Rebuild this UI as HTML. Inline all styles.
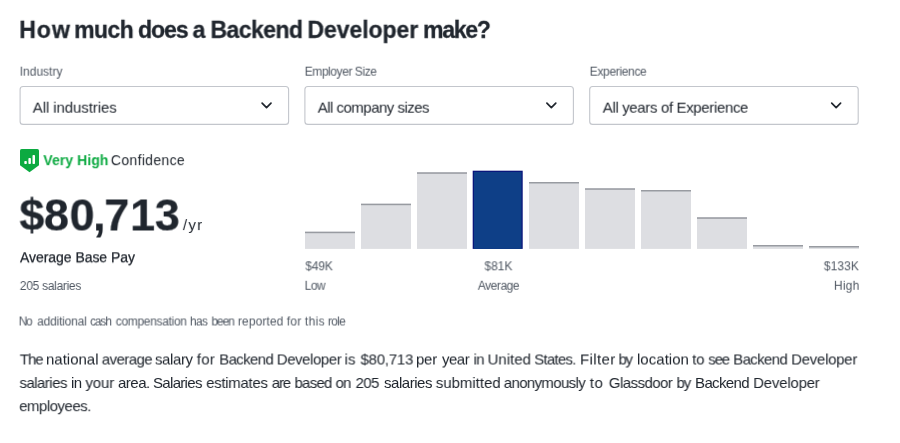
<!DOCTYPE html>
<html>
<head>
<meta charset="utf-8">
<title>How much does a Backend Developer make?</title>
<style>
*{box-sizing:border-box;margin:0;padding:0}
html,body{width:900px;height:443px;background:#fff;overflow:hidden}
body{font-family:"Liberation Sans",sans-serif;color:#20262e;position:relative}
.t{position:absolute;left:0;top:0;white-space:nowrap;line-height:1;will-change:opacity;transform-origin:0 0}
.sel{position:absolute;top:87px;width:269px;height:38px;border:1px solid #c4c7cc;border-radius:3px;background:#fff}
.chev{position:absolute;left:240.6px;top:14.6px;overflow:visible}
.bar{position:absolute;background:#dedfe2;width:50px}
.bar i{position:absolute;left:0;top:0;width:100%;height:1.5px;background:#9a9da3;display:block}
.bar.hi{background:#0d3d86;border:1px solid #0a2e68}
</style>
</head>
<body>
<div class="t" id="h1_0" style="-webkit-text-stroke:0.3px #20262e;transform:translate(19.3px,18.898px) rotate(0.001deg);font-size:23px;letter-spacing:1.0px;color:#20262e;font-weight:bold">How</div>
<div class="t" id="h1_1" style="-webkit-text-stroke:0.3px #20262e;transform:translate(74.2px,18.898px) rotate(0.001deg);font-size:23px;letter-spacing:-0.583px;color:#20262e;font-weight:bold">much</div>
<div class="t" id="h1_2" style="-webkit-text-stroke:0.3px #20262e;transform:translate(138.1px,18.898px) rotate(0.001deg);font-size:23px;letter-spacing:-1.083px;color:#20262e;font-weight:bold">does</div>
<div class="t" id="h1_3" style="-webkit-text-stroke:0.3px #20262e;transform:translate(192.625px,18.9px) rotate(0.001deg);font-size:23px;letter-spacing:0.0px;color:#20262e;font-weight:bold">a</div>
<div class="t" id="h1_4" style="-webkit-text-stroke:0.3px #20262e;transform:translate(210.5px,18.897px) rotate(0.001deg);font-size:23px;letter-spacing:-0.542px;color:#20262e;font-weight:bold">Backend</div>
<div class="t" id="h1_5" style="-webkit-text-stroke:0.3px #20262e;transform:translate(307.5px,18.896px) rotate(0.001deg);font-size:23px;letter-spacing:-0.063px;color:#20262e;font-weight:bold">Developer</div>
<div class="t" id="h1_6" style="-webkit-text-stroke:0.3px #20262e;transform:translate(423.1px,18.898px) rotate(0.001deg);font-size:23px;letter-spacing:-1.25px;color:#20262e;font-weight:bold">make?</div>
<div class="t" id="lb1" style="transform:translate(19.7px,65.699px) rotate(0.001deg);font-size:12px;letter-spacing:-0.0px;color:#505863;font-weight:normal">Industry</div>
<div class="t" id="lb2" style="transform:translate(304.7px,65.698px) rotate(0.001deg);font-size:12px;letter-spacing:-0.437px;color:#505863;font-weight:normal">Employer Size</div>
<div class="t" id="lb3" style="transform:translate(589.7px,65.698px) rotate(0.001deg);font-size:12px;letter-spacing:-0.333px;color:#505863;font-weight:normal">Experience</div>
<svg style="position:absolute;left:0;top:0" width="900" height="140" viewBox="0 0 900 140">
<rect x="20.1" y="86.5" width="268.5" height="37.9" rx="3" fill="#fff" stroke="#c3c6cc" stroke-width="1.1"/>
<path d="M262.10 103.20 L266.55 107.65 L271.00 103.20" fill="none" stroke="#20262e" stroke-width="1.7" stroke-linecap="round" stroke-linejoin="round"/>
<rect x="304.9" y="86.5" width="268.5" height="37.9" rx="3" fill="#fff" stroke="#c3c6cc" stroke-width="1.1"/>
<path d="M546.90 103.20 L551.35 107.65 L555.80 103.20" fill="none" stroke="#20262e" stroke-width="1.7" stroke-linecap="round" stroke-linejoin="round"/>
<rect x="589.7" y="86.5" width="268.5" height="37.9" rx="3" fill="#fff" stroke="#c3c6cc" stroke-width="1.1"/>
<path d="M831.70 103.20 L836.15 107.65 L840.60 103.20" fill="none" stroke="#20262e" stroke-width="1.7" stroke-linecap="round" stroke-linejoin="round"/>
</svg>
<div class="t" id="s1" style="transform:translate(32.7px,99.697px) rotate(0.001deg);font-size:15px;letter-spacing:-0.077px;color:#20262e;font-weight:normal">All industries</div>
<div class="t" id="s2" style="transform:translate(317.7px,99.696px) rotate(0.001deg);font-size:15px;letter-spacing:-0.516px;color:#20262e;font-weight:normal">All company sizes</div>
<div class="t" id="s3" style="transform:translate(602.7px,99.695px) rotate(0.001deg);font-size:15px;letter-spacing:-0.352px;color:#20262e;font-weight:normal">All years of Experience</div>
<svg style="position:absolute;left:19.85px;top:148.9px;overflow:visible" width="19" height="24" viewBox="0 0 19 24">
<path d="M1.6 0 H17.4 Q19 0 19 1.6 V16.3 L9.5 23.2 L0 16.3 V1.6 Q0 0 1.6 0 Z" fill="#0caa41"/>
<rect x="4.3" y="12" width="2.5" height="3.1" rx="0.8" fill="#fff"/>
<rect x="8.4" y="9" width="2.5" height="6.1" rx="0.8" fill="#fff"/>
<rect x="12.5" y="6.1" width="2.5" height="9" rx="0.8" fill="#fff"/>
</svg>
<div class="t" id="vh" style="transform:translate(43.35px,153.198px) rotate(0.001deg);font-size:14px;letter-spacing:0.062px;color:#0caa41;font-weight:bold">Very High</div>
<div class="t" id="cf" style="transform:translate(110.85px,153.197px) rotate(0.001deg);font-size:14px;letter-spacing:0.333px;color:#20262e;font-weight:normal">Confidence</div>
<div class="t" id="pr_0" style="-webkit-text-stroke:0.2px #20262e;transform:translate(19.375px,192.499px) rotate(0.001deg);font-size:45px;letter-spacing:0.0px;color:#20262e;font-weight:bold">$</div>
<div class="t" id="pr_1" style="-webkit-text-stroke:0.2px #20262e;transform:translate(43.95px,192.499px) rotate(0.001deg);font-size:45px;letter-spacing:0.0px;color:#20262e;font-weight:bold">8</div>
<div class="t" id="pr_2" style="-webkit-text-stroke:0.2px #20262e;transform:translate(69.575px,192.499px) rotate(0.001deg);font-size:45px;letter-spacing:0.0px;color:#20262e;font-weight:bold">0</div>
<div class="t" id="pr_3" style="-webkit-text-stroke:0.2px #20262e;transform:translate(93.05px,192.5px) rotate(0.001deg);font-size:45px;letter-spacing:0.0px;color:#20262e;font-weight:bold">,</div>
<div class="t" id="pr_4" style="-webkit-text-stroke:0.2px #20262e;transform:translate(104.325px,192.499px) rotate(0.001deg);font-size:45px;letter-spacing:0.0px;color:#20262e;font-weight:bold">7</div>
<div class="t" id="pr_5" style="-webkit-text-stroke:0.2px #20262e;transform:translate(130.125px,192.499px) rotate(0.001deg);font-size:45px;letter-spacing:0.0px;color:#20262e;font-weight:bold">1</div>
<div class="t" id="pr_6" style="-webkit-text-stroke:0.2px #20262e;transform:translate(154.8px,192.499px) rotate(0.001deg);font-size:45px;letter-spacing:0.0px;color:#20262e;font-weight:bold">3</div>
<div class="t" id="yr" style="transform:translate(182.9px,217.099px) rotate(0.001deg);font-size:15px;letter-spacing:1.25px;color:#20262e;font-weight:normal">/yr</div>
<div class="t" id="abp" style="-webkit-text-stroke:0.25px #20262e;transform:translate(20.0px,250.296px) rotate(0.001deg);font-size:14px;letter-spacing:-0.05px;color:#20262e;font-weight:normal">Average Base Pay</div>
<div class="t" id="sal" style="transform:translate(19.8px,279.998px) rotate(0.001deg);font-size:12px;letter-spacing:-0.295px;color:#505863;font-weight:normal">205 salaries</div>
<div class="t" id="na_0" style="transform:translate(18.7px,315.5px) rotate(0.001deg);font-size:12px;letter-spacing:-1.5px;color:#505863;font-weight:normal">No</div>
<div class="t" id="na_1" style="transform:translate(37.2px,315.498px) rotate(0.001deg);font-size:12px;letter-spacing:-0.194px;color:#505863;font-weight:normal">additional</div>
<div class="t" id="na_2" style="transform:translate(90.1px,315.499px) rotate(0.001deg);font-size:12px;letter-spacing:-1.167px;color:#505863;font-weight:normal">cash</div>
<div class="t" id="na_3" style="transform:translate(115.7px,315.497px) rotate(0.001deg);font-size:12px;letter-spacing:-0.318px;color:#505863;font-weight:normal">compensation</div>
<div class="t" id="na_4" style="transform:translate(189.95px,315.499px) rotate(0.001deg);font-size:12px;letter-spacing:-0.625px;color:#505863;font-weight:normal">has</div>
<div class="t" id="na_5" style="transform:translate(211.45px,315.499px) rotate(0.001deg);font-size:12px;letter-spacing:-1.083px;color:#505863;font-weight:normal">been</div>
<div class="t" id="na_6" style="transform:translate(237.85px,315.498px) rotate(0.001deg);font-size:12px;letter-spacing:0.107px;color:#505863;font-weight:normal">reported</div>
<div class="t" id="na_7" style="transform:translate(286.75px,315.5px) rotate(0.001deg);font-size:12px;letter-spacing:0.25px;color:#505863;font-weight:normal">for</div>
<div class="t" id="na_8" style="transform:translate(304.85px,315.499px) rotate(0.001deg);font-size:12px;letter-spacing:0.333px;color:#505863;font-weight:normal">this</div>
<div class="t" id="na_9" style="transform:translate(327.85px,315.499px) rotate(0.001deg);font-size:12px;letter-spacing:-0.667px;color:#505863;font-weight:normal">role</div>
<svg style="position:absolute;left:0;top:0" width="900" height="260" viewBox="0 0 900 260">
<rect x="305" y="231.7" width="50" height="17.2" fill="#dddee2"/><rect x="305" y="231.7" width="50" height="1.5" fill="#989ba1"/>
<rect x="361" y="203.7" width="50" height="45.2" fill="#dddee2"/><rect x="361" y="203.7" width="50" height="1.5" fill="#989ba1"/>
<rect x="417" y="172.3" width="50" height="76.6" fill="#dddee2"/><rect x="417" y="172.3" width="50" height="1.5" fill="#989ba1"/>
<rect x="472.7" y="170.7" width="50" height="78.2" fill="#08127a"/><rect x="473.9" y="171.89999999999998" width="47.6" height="77.0" fill="#0e3f87"/>
<rect x="529" y="182" width="50" height="66.9" fill="#dddee2"/><rect x="529" y="182" width="50" height="1.5" fill="#989ba1"/>
<rect x="585" y="188.3" width="50" height="60.6" fill="#dddee2"/><rect x="585" y="188.3" width="50" height="1.5" fill="#989ba1"/>
<rect x="641" y="190" width="50" height="58.9" fill="#dddee2"/><rect x="641" y="190" width="50" height="1.5" fill="#989ba1"/>
<rect x="697" y="217.3" width="50" height="31.6" fill="#dddee2"/><rect x="697" y="217.3" width="50" height="1.5" fill="#989ba1"/>
<rect x="753" y="245" width="50" height="3.9" fill="#dddee2"/><rect x="753" y="245" width="50" height="1.5" fill="#989ba1"/>
<rect x="809" y="246" width="50" height="2.9" fill="#dddee2"/><rect x="809" y="246" width="50" height="1.5" fill="#989ba1"/>
</svg>
<div class="t" id="c1" style="transform:translate(305.35px,260.299px) rotate(0.001deg);font-size:12px;letter-spacing:-0.167px;color:#505863;font-weight:normal">$49K</div>
<div class="t" id="c2" style="transform:translate(304.6px,279.799px) rotate(0.001deg);font-size:12px;letter-spacing:-0.5px;color:#505863;font-weight:normal">Low</div>
<div class="t" id="c3" style="transform:translate(484.45px,260.299px) rotate(0.001deg);font-size:12px;letter-spacing:0.0px;color:#505863;font-weight:normal">$81K</div>
<div class="t" id="c4" style="transform:translate(477.8px,279.799px) rotate(0.001deg);font-size:12px;letter-spacing:-0.458px;color:#505863;font-weight:normal">Average</div>
<div class="t" id="c5" style="transform:translate(823.85px,260.299px) rotate(0.001deg);font-size:12px;letter-spacing:0.062px;color:#505863;font-weight:normal">$133K</div>
<div class="t" id="c6" style="transform:translate(833.9px,279.799px) rotate(0.001deg);font-size:12px;letter-spacing:0.25px;color:#505863;font-weight:normal">High</div>
<div class="t" id="p1_0" style="transform:translate(19.75px,351.499px) rotate(0.001deg);font-size:15px;letter-spacing:-1.0px;color:#20262e;font-weight:normal">The</div>
<div class="t" id="p1_1" style="transform:translate(46.0px,351.498px) rotate(0.001deg);font-size:15px;letter-spacing:0.0px;color:#20262e;font-weight:normal">national</div>
<div class="t" id="p1_2" style="transform:translate(101.75px,351.498px) rotate(0.001deg);font-size:15px;letter-spacing:-0.542px;color:#20262e;font-weight:normal">average</div>
<div class="t" id="p1_3" style="transform:translate(155.0px,351.499px) rotate(0.001deg);font-size:15px;letter-spacing:-0.4px;color:#20262e;font-weight:normal">salary</div>
<div class="t" id="p1_4" style="transform:translate(196.75px,351.499px) rotate(0.001deg);font-size:15px;letter-spacing:0.25px;color:#20262e;font-weight:normal">for</div>
<div class="t" id="p1_5" style="transform:translate(219.25px,351.498px) rotate(0.001deg);font-size:15px;letter-spacing:-0.625px;color:#20262e;font-weight:normal">Backend</div>
<div class="t" id="p1_6" style="transform:translate(276.75px,351.498px) rotate(0.001deg);font-size:15px;letter-spacing:-0.437px;color:#20262e;font-weight:normal">Developer</div>
<div class="t" id="p1_7" style="transform:translate(344.5px,351.5px) rotate(0.001deg);font-size:15px;letter-spacing:0.25px;color:#20262e;font-weight:normal">is</div>
<div class="t" id="p1_8" style="transform:translate(360.55px,351.498px) rotate(0.001deg);font-size:15px;letter-spacing:-0.25px;color:#20262e;font-weight:normal">$80,713</div>
<div class="t" id="p1_9" style="transform:translate(416.0px,351.499px) rotate(0.001deg);font-size:15px;letter-spacing:-0.25px;color:#20262e;font-weight:normal">per</div>
<div class="t" id="p1_10" style="transform:translate(442.0px,351.499px) rotate(0.001deg);font-size:15px;letter-spacing:-0.5px;color:#20262e;font-weight:normal">year</div>
<div class="t" id="p1_11" style="transform:translate(473.5px,351.5px) rotate(0.001deg);font-size:15px;letter-spacing:-0.5px;color:#20262e;font-weight:normal">in</div>
<div class="t" id="p1_12" style="transform:translate(487.55px,351.498px) rotate(0.001deg);font-size:15px;letter-spacing:-0.0px;color:#20262e;font-weight:normal">United</div>
<div class="t" id="p1_13" style="transform:translate(534.25px,351.499px) rotate(0.001deg);font-size:15px;letter-spacing:-0.75px;color:#20262e;font-weight:normal">States.</div>
<div class="t" id="p1_14" style="transform:translate(580.05px,351.499px) rotate(0.001deg);font-size:15px;letter-spacing:0.4px;color:#20262e;font-weight:normal">Filter</div>
<div class="t" id="p1_15" style="transform:translate(618.5px,351.5px) rotate(0.001deg);font-size:15px;letter-spacing:-1.25px;color:#20262e;font-weight:normal">by</div>
<div class="t" id="p1_16" style="transform:translate(637.0px,351.498px) rotate(0.001deg);font-size:15px;letter-spacing:0.036px;color:#20262e;font-weight:normal">location</div>
<div class="t" id="p1_17" style="transform:translate(692.25px,351.5px) rotate(0.001deg);font-size:15px;letter-spacing:-0.25px;color:#20262e;font-weight:normal">to</div>
<div class="t" id="p1_18" style="transform:translate(708.3px,351.499px) rotate(0.001deg);font-size:15px;letter-spacing:-1.125px;color:#20262e;font-weight:normal">see</div>
<div class="t" id="p1_19" style="transform:translate(733.25px,351.498px) rotate(0.001deg);font-size:15px;letter-spacing:-0.625px;color:#20262e;font-weight:normal">Backend</div>
<div class="t" id="p1_20" style="transform:translate(791.25px,351.498px) rotate(0.001deg);font-size:15px;letter-spacing:-0.281px;color:#20262e;font-weight:normal">Developer</div>
<div class="t" id="p2_0" style="transform:translate(19.5px,374.998px) rotate(0.001deg);font-size:15px;letter-spacing:-0.536px;color:#20262e;font-weight:normal">salaries</div>
<div class="t" id="p2_1" style="transform:translate(71.0px,375.0px) rotate(0.001deg);font-size:15px;letter-spacing:-0.5px;color:#20262e;font-weight:normal">in</div>
<div class="t" id="p2_2" style="transform:translate(85.5px,374.999px) rotate(0.001deg);font-size:15px;letter-spacing:-0.167px;color:#20262e;font-weight:normal">your</div>
<div class="t" id="p2_3" style="transform:translate(118.05px,374.999px) rotate(0.001deg);font-size:15px;letter-spacing:-0.5px;color:#20262e;font-weight:normal">area.</div>
<div class="t" id="p2_4" style="transform:translate(153.05px,374.998px) rotate(0.001deg);font-size:15px;letter-spacing:-0.679px;color:#20262e;font-weight:normal">Salaries</div>
<div class="t" id="p2_5" style="transform:translate(206.25px,374.998px) rotate(0.001deg);font-size:15px;letter-spacing:-0.312px;color:#20262e;font-weight:normal">estimates</div>
<div class="t" id="p2_6" style="transform:translate(271.75px,374.999px) rotate(0.001deg);font-size:15px;letter-spacing:-1.125px;color:#20262e;font-weight:normal">are</div>
<div class="t" id="p2_7" style="transform:translate(294.5px,374.999px) rotate(0.001deg);font-size:15px;letter-spacing:-0.75px;color:#20262e;font-weight:normal">based</div>
<div class="t" id="p2_8" style="transform:translate(335.55px,374.999px) rotate(0.001deg);font-size:15px;letter-spacing:-0.75px;color:#20262e;font-weight:normal">on</div>
<div class="t" id="p2_9" style="transform:translate(355.55px,374.999px) rotate(0.001deg);font-size:15px;letter-spacing:-0.625px;color:#20262e;font-weight:normal">205</div>
<div class="t" id="p2_10" style="transform:translate(384.0px,374.998px) rotate(0.001deg);font-size:15px;letter-spacing:-0.464px;color:#20262e;font-weight:normal">salaries</div>
<div class="t" id="p2_11" style="transform:translate(435.8px,374.998px) rotate(0.001deg);font-size:15px;letter-spacing:-0.031px;color:#20262e;font-weight:normal">submitted</div>
<div class="t" id="p2_12" style="transform:translate(503.75px,374.997px) rotate(0.001deg);font-size:15px;letter-spacing:-0.65px;color:#20262e;font-weight:normal">anonymously</div>
<div class="t" id="p2_13" style="transform:translate(589.75px,375.0px) rotate(0.001deg);font-size:15px;letter-spacing:0.5px;color:#20262e;font-weight:normal">to</div>
<div class="t" id="p2_14" style="transform:translate(608.75px,374.998px) rotate(0.001deg);font-size:15px;letter-spacing:-0.531px;color:#20262e;font-weight:normal">Glassdoor</div>
<div class="t" id="p2_15" style="transform:translate(676.5px,375.0px) rotate(0.001deg);font-size:15px;letter-spacing:-1.0px;color:#20262e;font-weight:normal">by</div>
<div class="t" id="p2_16" style="transform:translate(695.05px,374.998px) rotate(0.001deg);font-size:15px;letter-spacing:-0.625px;color:#20262e;font-weight:normal">Backend</div>
<div class="t" id="p2_17" style="transform:translate(753.25px,374.998px) rotate(0.001deg);font-size:15px;letter-spacing:-0.219px;color:#20262e;font-weight:normal">Developer</div>
<div class="t" id="p3" style="transform:translate(19.25px,398.197px) rotate(0.001deg);font-size:15px;letter-spacing:-0.5px;color:#20262e;font-weight:normal">employees.</div>
</body>
</html>
